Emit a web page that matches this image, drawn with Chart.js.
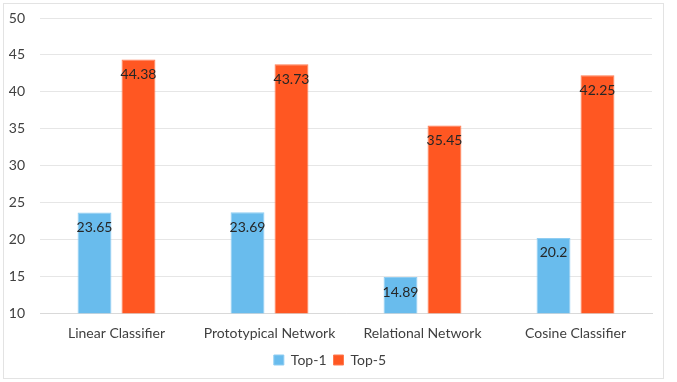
<!DOCTYPE html>
<html>
<head>
<meta charset="utf-8">
<script src="https://cdn.jsdelivr.net/npm/chart.js@4/dist/chart.umd.min.js"></script>
<style>
  html, body { margin: 0; padding: 0; background: #fff; }
  #frame { position: absolute; left: 3px; top: 3px; width: 659px; height: 374px; border: 1px solid #e3e3e3; }
  #wrap { position: absolute; left: 0; top: 0; width: 677px; height: 382px; }
</style>
</head>
<body>
<div id="frame"></div>
<div id="wrap"><canvas id="chart" width="677" height="382"></canvas></div>
<script>
const categories = ['Linear Classifier', 'Prototypical Network', 'Relational Network', 'Cosine Classifier'];
const top1 = [23.65, 23.69, 14.89, 20.2];
const top5 = [44.38, 43.73, 35.45, 42.25];
const yTicks = [10, 15, 20, 25, 30, 35, 40, 45, 50];

const fontFamily = 'Lato, "Open Sans", sans-serif';

// value labels just inside the top of every bar
const barLabels = {
  id: 'barLabels',
  afterDatasetsDraw(chart) {
    const ctx = chart.ctx;
    ctx.save();
    ctx.font = '14px ' + fontFamily;
    ctx.fillStyle = '#262626';
    ctx.textAlign = 'center';
    ctx.textBaseline = 'middle';
    chart.data.datasets.forEach((ds, i) => {
      chart.getDatasetMeta(i).data.forEach((bar, j) => {
        ctx.fillText(String(ds.data[j]), bar.x, bar.y + 15);
      });
    });
    ctx.restore();
  }
};

new Chart(document.getElementById('chart'), {
  type: 'bar',
  data: {
    labels: categories,
    datasets: [{
      label: 'Top-1',
      data: top1,
      backgroundColor: '#69bced',
      borderColor: '#8fcdf2',
      borderWidth: 1,
      categoryPercentage: 0.575,
      barPercentage: 0.77
    }, {
      label: 'Top-5',
      data: top5,
      backgroundColor: '#ff5722',
      borderColor: '#ff7a50',
      borderWidth: 1,
      categoryPercentage: 0.575,
      barPercentage: 0.77
    }]
  },
  options: {
    responsive: false,
    animation: false,
    layout: { padding: { left: 8, right: 25, top: 18, bottom: 5 } },
    plugins: {
      tooltip: { enabled: false },
      legend: {
        position: 'bottom',
        labels: {
          boxWidth: 10,
          boxHeight: 10,
          padding: 7,
          color: '#404040',
          font: { family: fontFamily, size: 14 }
        }
      }
    },
    scales: {
      x: {
        grid: { display: false },
        border: { color: '#d9d9d9' },
        ticks: { color: '#404040', padding: 4, font: { family: fontFamily, size: 14 } }
      },
      y: {
        min: 10,
        max: 50,
        afterBuildTicks: (scale) => { scale.ticks = yTicks.map(v => ({ value: v })); },
        afterFit: (scale) => {
          scale.width = 32;
          scale.paddingTop = 0;
          scale.paddingBottom = 0;
        },
        grid: { color: '#e6e6e6', drawTicks: false },
        border: { display: false },
        ticks: { color: '#404040', padding: 15, font: { family: fontFamily, size: 14 } }
      }
    }
  },
  plugins: [barLabels]
});
</script>
</body>
</html>
